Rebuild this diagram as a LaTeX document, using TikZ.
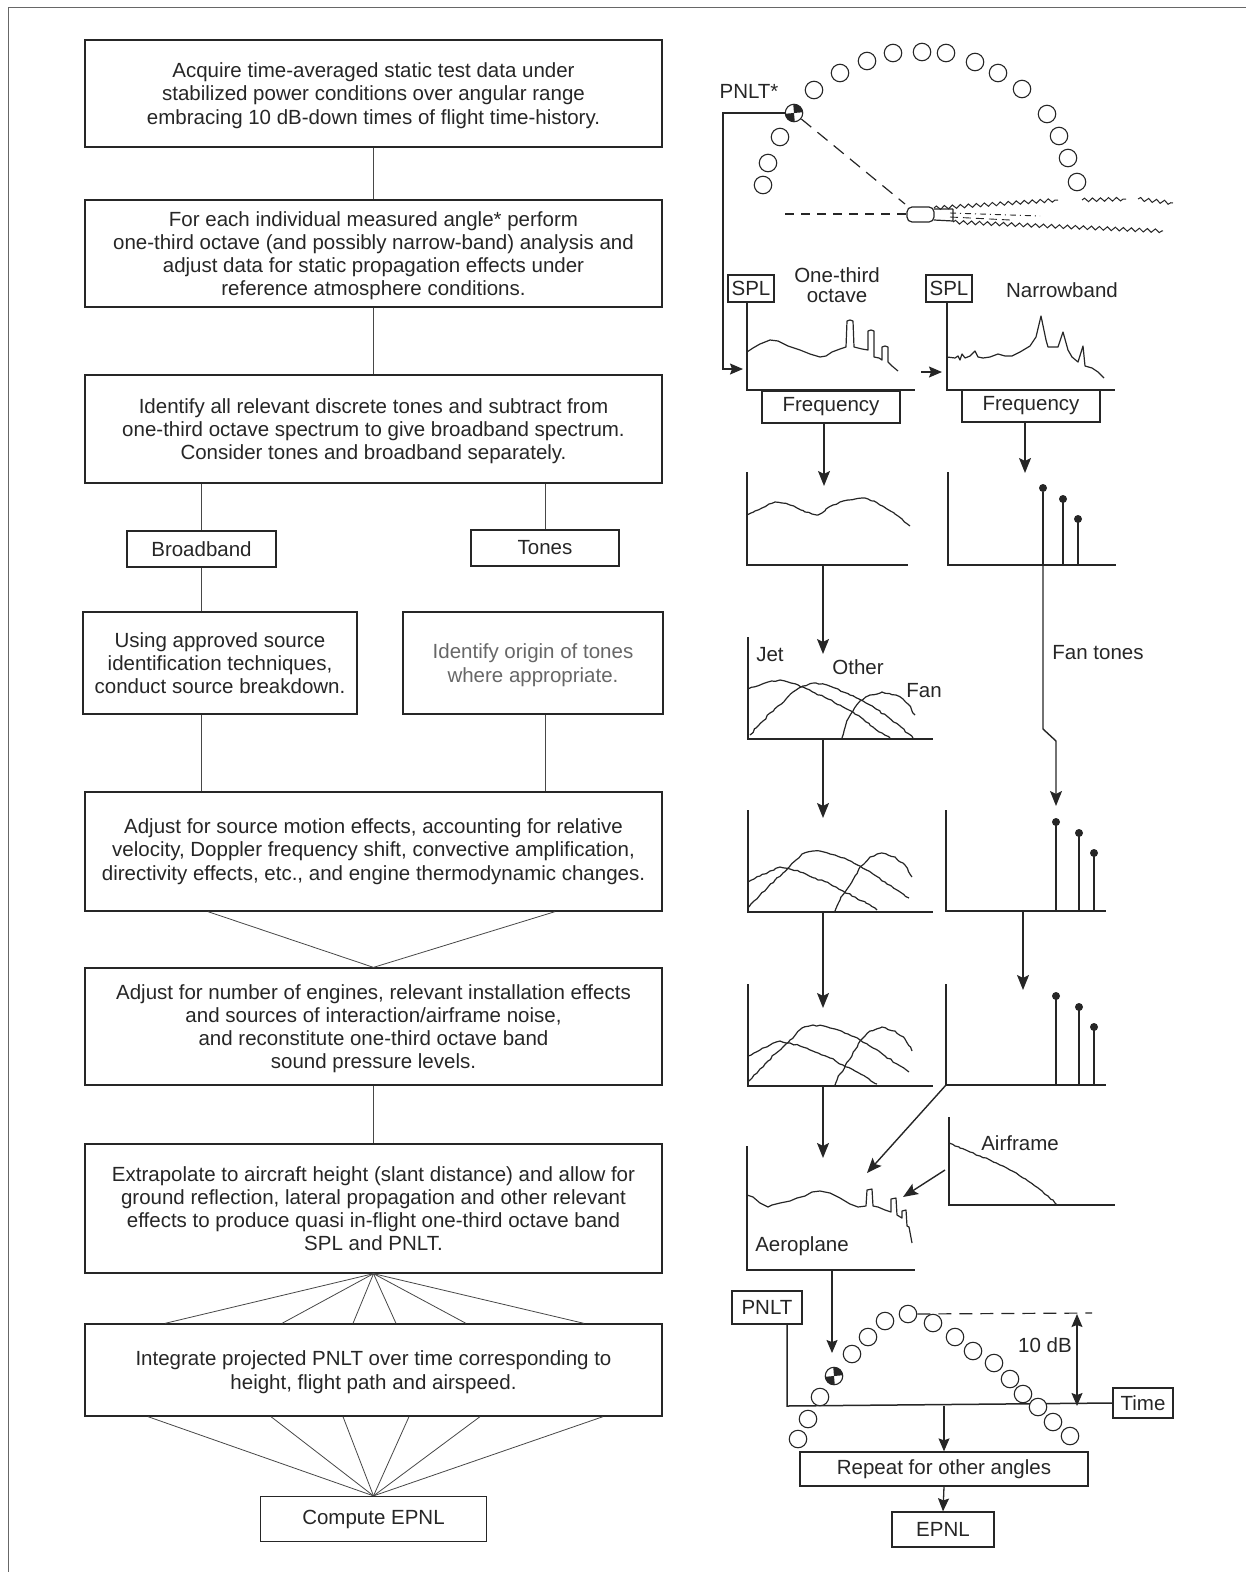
\documentclass[tikz,border=0pt]{standalone}
\usepackage{fontspec}
\setmainfont{Liberation Sans}
\usetikzlibrary{arrows.meta,decorations.pathmorphing}
\definecolor{ink}{HTML}{262626}
\begin{document}
\begin{tikzpicture}[x=1pt,y=-1pt,
  txt/.style={font=\fontsize{20.5}{23.2}\selectfont, text=ink},
  box/.style={txt, draw=ink, line width=1.3pt, inner sep=0pt, align=center},
  stepbox/.style={box, text depth=-7pt},
  link/.style={draw=ink!85, line width=0.8pt},
  arr/.style={draw=ink, line width=1.4pt, -{Stealth[length=15pt,width=12pt,inset=3pt]}},
  arrs/.style={draw=ink, line width=1.3pt, -{Stealth[length=13pt,width=11pt,inset=2pt]}},
  dbl/.style={draw=ink, line width=1.3pt, {Stealth[length=13pt,width=11pt,inset=2pt]}-{Stealth[length=13pt,width=11pt,inset=2pt]}},
  axis/.style={draw=ink, line width=1.5pt},
  trace/.style={draw=ink, line width=1.2pt, line join=round},
  rough/.style={trace, decorate, decoration={random steps, segment length=3.5pt, amplitude=0.8pt}},
  wave/.style={draw=ink, line width=1pt, decorate, decoration={snake, segment length=8pt, amplitude=1.8pt}},
  ring/.style={circle, draw=ink, line width=1.1pt, minimum size=17.5pt, inner sep=0pt, fill=white},
  marker/.style={ring, path picture={
      \fill[ink] (path picture bounding box.center) -- ++(5:10pt) arc[start angle=5, end angle=95, radius=10pt] -- cycle;
      \fill[ink] (path picture bounding box.center) -- ++(185:10pt) arc[start angle=185, end angle=275, radius=10pt] -- cycle;}},
  stem/.style={draw=ink, line width=1.2pt},
  tip/.style={circle, fill=ink, minimum size=8pt, inner sep=0pt},
  lbl/.style={txt, inner sep=0pt, align=center},
]
\useasboundingbox (0,0) rectangle (1246,1572);
\pgfmathsetseed{11}

% page frame
\draw[ink!70, line width=0.8pt] (8,1572) -- (8,7) -- (1246,7);

% ---------------- procedure column ----------------
\node[stepbox, minimum width=577, minimum height=107] (b1) at (373.5,93.5)
  {Acquire time-averaged static test data under\\stabilized power conditions over angular range\\embracing 10 dB-down times of flight time-history.};
\node[stepbox, minimum width=577, minimum height=107] (b2) at (373.5,253.5)
  {For each individual measured angle* perform\\one-third octave (and possibly narrow-band) analysis and\\adjust data for static propagation effects under\\reference atmosphere conditions.};
\node[stepbox, minimum width=577, minimum height=108] (b3) at (373.5,429)
  {Identify all relevant discrete tones and subtract from\\one-third octave spectrum to give broadband spectrum.\\Consider tones and broadband separately.};
\node[box, minimum width=149, minimum height=36] (bb) at (201.5,549) {Broadband};
\node[box, minimum width=148, minimum height=36] (tn) at (545,548) {Tones};
\node[stepbox, minimum width=274, minimum height=102] (b4a) at (220,663)
  {Using approved source\\identification techniques,\\conduct source breakdown.};
\node[stepbox, minimum width=260, minimum height=102, text=ink!70] (b4b) at (533,663)
  {Identify origin of tones\\where appropriate.};
\node[box, minimum width=577, minimum height=119] (b5) at (373.5,851.5)
  {Adjust for source motion effects, accounting for relative\\velocity, Doppler frequency shift, convective amplification,\\directivity effects, etc., and engine thermodynamic changes.};
\node[stepbox, minimum width=577, minimum height=117] (b6) at (373.5,1026.5)
  {Adjust for number of engines, relevant installation effects\\and sources of interaction/airframe noise,\\and reconstitute one-third octave band\\sound pressure levels.};
\node[box, minimum width=577, minimum height=129] (b7) at (373.5,1208.5)
  {Extrapolate to aircraft height (slant distance) and allow for\\ground reflection, lateral propagation and other relevant\\effects to produce quasi in-flight one-third octave band\\SPL and PNLT.};
\node[stepbox, minimum width=577, minimum height=92] (b8) at (373.5,1370)
  {Integrate projected PNLT over time corresponding to\\height, flight path and airspeed.};
\node[box, minimum width=226, minimum height=45] (ep) at (373.5,1519) {Compute EPNL};

\draw[link] (b1.south) -- (b2.north);
\draw[link] (b2.south) -- (b3.north);
\draw[link] (bb.north |- b3.south) -- (bb.north);
\draw[link] (tn.north |- b3.south) -- (tn.north);
\draw[link] (bb.south) -- (bb.south |- b4a.north);
\draw[link] (bb.south |- b4a.south) -- (bb.south |- b5.north);
\draw[link] (tn.south |- b4b.south) -- (tn.south |- b5.north);
\draw[link] (208,0 |- b5.south) -- (b6.north) -- (555,0 |- b5.south);
\draw[link] (b6.south) -- (b7.north);
\foreach \x in {165,282,353,396,466,584}
  \draw[link] (b7.south) -- (\x,0 |- b8.north);
\foreach \x in {148,271,343,409,480,603}
  \draw[link] (\x,0 |- b8.south) -- (ep.north);

% ---------------- static test arc and engine ----------------
\foreach \p [count=\i] in {(763,185),(768,163),(780,137),(814,90),(840,73),(867,61),(893,53),
    (922,52),(946,53),(975,62),(998,73),(1022,89),(1047,114),(1059,136),(1068,158),(1077,182)}
  \node[ring] (a\i) at \p {};
\node[marker] (m1) at (794,113) {};
\node[lbl] (pstar) at (749,91) {PNLT*};

% engine, jet plume and line of sight
\coordinate (nose) at (907,214);
\draw[ink, line width=1.2pt, dash pattern=on 13pt off 8pt] (m1) -- (905,204);
\draw[ink, line width=1.2pt, dash pattern=on 9pt off 7pt] (785,214) -- (nose);
\draw[trace, rounded corners=5pt] (907,207) rectangle (934,222);
\draw[trace] (934,209) -- (953,209) (934,220) -- (953,221) (953,209) -- (953,221);
\draw[wave] (934,208) -- (1058,200);
\draw[wave] (1082,200) -- (1126,199);
\draw[wave] (1138,199) -- (1173,203);
\draw[wave] (953,222) -- (1163,231);
\draw[ink, line width=0.9pt, dash pattern=on 6pt off 4pt on 1pt off 4pt] (950,213) -- (1040,216);
\draw[ink, line width=0.9pt, dash pattern=on 8pt off 5pt] (950,217) -- (1010,220);

% ---------------- spectra ----------------
\node[box, minimum width=46, minimum height=27] (spl1) at (751,288.5) {SPL};
\node[box, minimum width=46, minimum height=27] (spl2) at (949,288.5) {SPL};
\node[lbl, font=\fontsize{20.5}{20}\selectfont] (oto) at (837,285) {One-third\\octave};
\node[lbl] (nbl) at (1062,290) {Narrowband};
\draw[axis] (747,0 |- spl1.south) -- (747,390) -- (915,390);
\draw[axis] (947,0 |- spl2.south) -- (947,390) -- (1115,390);
\node[box, minimum width=138, minimum height=32] (fq1) at (831,407) {Frequency};
\node[box, minimum width=138, minimum height=32] (fq2) at (1031,406) {Frequency};

\draw[arrs] (m1.west) -- (723,113) -- (723,369) -- (743,369);
\draw[arrs] (921,372) -- (942,372);

% one-third octave spectrum with tones
\draw[trace] (747,352) -- (753,348) -- (760,344) -- (770,340) -- (778,341) -- (788,346) -- (800,350)
  -- (810,354) -- (820,357) -- (826,356) -- (832,352) -- (840,349) -- (846,347) -- (847,321) -- (850,320)
  -- (853,321) -- (854,347) -- (862,349) -- (868,350) -- (868,331) -- (871,330) -- (874,331) -- (874,357)
  -- (879,358) -- (882,360) -- (882,347) -- (885,346) -- (888,347) -- (888,362) -- (892,366) -- (898,371);
% narrowband spectrum
\draw[trace] (947,357) -- (955,358) -- (958,356) -- (960,360) -- (962,354) -- (965,358) -- (970,356)
  -- (975,351) -- (978,357) -- (983,358) -- (990,357) -- (998,354) -- (1005,356) -- (1012,356)
  -- (1020,352) -- (1030,346) -- (1036,337) -- (1041,316) -- (1046,340) -- (1048,347) -- (1058,347)
  -- (1063,332) -- (1068,350) -- (1072,357) -- (1078,362) -- (1083,346) -- (1085,366) -- (1092,368)
  -- (1098,372) -- (1104,378);

% broadband spectrum
\coordinate (ca) at (747,565);
\draw[axis] (747,472) -- (ca) -- (908,565);
\draw[rough] plot coordinates {(747,515) (755,511) (762,508) (769,504) (775,502) (782,503) (790,505)
  (797,508) (805,512) (812,514) (818,515) (822,513) (826,509) (833,505) (840,502) (848,500) (855,499)
  (862,498) (868,499) (874,501) (880,505) (887,509) (895,514) (902,519) (910,526)};
% tones
\coordinate (cb) at (948,565);
\draw[axis] (948,472) -- (cb) -- (1116,565);
\draw[stem] (1063,565) -- (1063,499) node[tip] (tb2) {};
\draw[stem] (1078,565) -- (1078,519) node[tip] (tb3) {};
\node[tip] (tb1) at (1043,488) {};
\draw[stem] (tb1) -- (1043,565);
\draw[arr] (1025,0 |- fq2.south) -- (1025,473);
\draw[arr] (824,0 |- fq1.south) -- (824,486);

% source breakdown
\coordinate (cc) at (748,739);
\draw[axis] (748,637) -- (cc) -- (933,739);
\begin{scope}[shift={(748,739)}]
  \draw[rough] plot coordinates {(0,-50) (6,-52) (12,-54) (20,-57) (32,-59) (43,-56) (55,-52) (67,-46) (80,-40) (92,-34) (105,-27) (115,-20) (125,-12) (134,-6) (142,-1)};
  \draw[rough] plot coordinates {(2,-4) (8,-11) (15,-18) (22,-26) (30,-33) (38,-40) (45,-47) (55,-53) (68,-56) (79,-54) (90,-50) (102,-44) (115,-38) (128,-30) (140,-22) (153,-12) (165,-1)};
  \draw[rough] plot coordinates {(94,-1) (96,-8) (98,-15) (105,-28) (112,-38) (122,-44) (134,-47) (148,-44) (155,-40) (160,-35) (167,-24)};
\end{scope}
\node[lbl] (jet) at (770,655) {Jet};
\node[lbl] (oth) at (858,667) {Other};
\node[lbl] (fan) at (924,691) {Fan};
\draw[arr] (823,565) -- (823,654);
\draw[arr] (1043,565) -- (1043,729) -- (1056,741) -- (1056,806);
\node[lbl] (fant) at (1098,653) {Fan tones};

% motion-adjusted source spectra (D) and installed spectra (F)
\foreach \dy/\nm in {0/cd,174/cf} {
  \coordinate (\nm) at (748,912+\dy);
  \draw[axis] (748,810+\dy) -- (\nm) -- (933,912+\dy);
  \begin{scope}[shift={(748,912+\dy)}]
    \draw[rough] plot coordinates {(0,-30) (6,-33) (12,-36) (22,-41) (32,-45) (42,-43) (52,-40) (67,-34) (82,-28) (95,-21) (107,-15) (118,-9) (129,-2)};
    \draw[rough] plot coordinates {(1,-5) (6,-11) (12,-17) (20,-25) (27,-32) (35,-39) (42,-46) (48,-52) (54,-58) (65,-61) (76,-60) (87,-57) (100,-52) (112,-46) (125,-38) (137,-30) (149,-22) (161,-14)};
    \draw[rough] plot coordinates {(87,-1) (89,-6) (92,-12) (97,-20) (102,-27) (107,-36) (112,-45) (122,-55) (134,-59) (147,-55) (157,-47) (164,-35)};
  \end{scope}
}
% Doppler-shifted tones (E) and installed tones (G)
\foreach \dy/\nm in {0/ce,174/cg} {
  \coordinate (\nm) at (946,911+\dy);
  \draw[axis] (946,810+\dy) -- (\nm) -- (1106,911+\dy);
  \draw[stem] (1056,911+\dy) -- (1056,822+\dy) node[tip] {};
  \draw[stem] (1079,911+\dy) -- (1079,833+\dy) node[tip] {};
  \draw[stem] (1094,911+\dy) -- (1094,853+\dy) node[tip] {};
}
\draw[arr] (823,739) -- (823,818);
\draw[arr] (823,912) -- (823,1008);
\draw[arr] (1023,911) -- (1023,990);
\draw[arr] (823,1086) -- (823,1158);

% aeroplane spectrum
\coordinate (ch) at (747,1270);
\draw[axis] (747,1146) -- (ch) -- (915,1270);
\draw[trace] (747,1195) -- (753,1197) -- (760,1203) -- (768,1207) -- (772,1205) -- (780,1203) -- (790,1201)
  -- (797,1198) -- (805,1196) -- (812,1192) -- (820,1191) -- (830,1193) -- (840,1198) -- (850,1204)
  -- (858,1207) -- (866,1206) -- (867,1190) -- (872,1189) -- (873,1206) -- (878,1207) -- (885,1210)
  -- (891,1212) -- (891,1199) -- (896,1198) -- (897,1215) -- (902,1218) -- (902,1211) -- (906,1210)
  -- (907,1226) -- (909,1227) -- (912,1243);
\node[lbl] (aero) at (802,1246) {Aeroplane};
% airframe spectrum
\coordinate (ci) at (949,1205);
\draw[axis] (949,1117) -- (ci) -- (1115,1205);
\draw[rough] plot coordinates {(949,1143) (955,1146) (960,1148) (970,1152) (980,1156) (990,1160) (1000,1165) (1010,1170) (1020,1176) (1028,1181) (1035,1186) (1042,1191) (1048,1196) (1053,1200) (1057,1205)};
\node[lbl] (afr) at (1020,1143) {Airframe};
\draw[arr] (cg) -- (867,1173);
\draw[arr] (945,1170) -- (903,1197);

% ---------------- PNLT time history ----------------
\node[box, minimum width=70, minimum height=33] (pn) at (767,1307.5) {PNLT};
\node[box, minimum width=60, minimum height=30] (tm) at (1143,1403) {Time};
\coordinate (cp) at (787,1406);
\draw[axis] (787,0 |- pn.south) -- (cp) -- (tm.west);
\draw[arrs] (832,1270) -- (832,1353);
\foreach \p [count=\i] in {(798,1439),(808,1419),(820,1397),(852,1354),(868,1337),(885,1321),(908,1314),
    (933,1323),(955,1337),(973,1351),(994,1363),(1010,1379),(1023,1394),(1038,1407),(1053,1422),(1070,1436)}
  \node[ring] (p\i) at \p {};
\node[marker] (m2) at (834,1376) {};
\draw[ink, line width=1.2pt, dash pattern=on 13pt off 8pt] (p7.east) -- (1092,1313);
\draw[dbl] (1077,1314) -- (1077,1406);
\node[lbl] (tdb) at (1045,1345) {10 dB};

\node[box, minimum width=288, minimum height=34] (rep) at (944,1469) {Repeat for other angles};
\node[box, minimum width=102, minimum height=35] (ep2) at (943,1529.5) {EPNL};
\draw[arrs] (944,1406) -- (rep.north);
\draw[arrs] (rep.south) -- (ep2.north);
\end{tikzpicture}
\end{document}
